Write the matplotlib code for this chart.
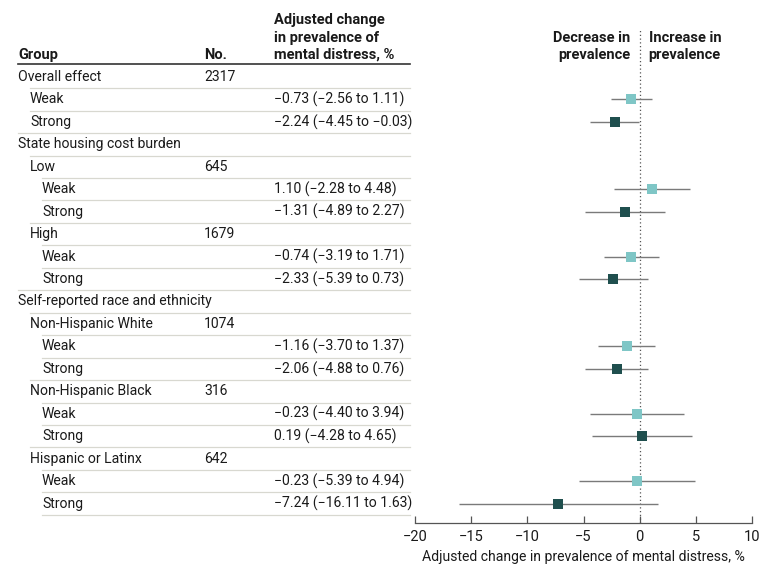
import matplotlib
matplotlib.use("Agg")
import matplotlib.pyplot as plt
import matplotlib.transforms as mtransforms
from matplotlib.lines import Line2D

plt.rcParams['font.family'] = ['Roboto', 'DejaVu Sans']

# ---- data ----
labels = ["Overall effect", "Weak", "Strong",
          "State housing cost burden",
          "Low", "Weak", "Strong",
          "High", "Weak", "Strong",
          "Self-reported race and ethnicity",
          "Non-Hispanic White", "Weak", "Strong",
          "Non-Hispanic Black", "Weak", "Strong",
          "Hispanic or Latinx", "Weak", "Strong"]
levels = [0, 1, 1, 0, 1, 2, 2, 1, 2, 2, 0, 1, 2, 2, 1, 2, 2, 1, 2, 2]
counts = ["2317", "", "", "", "645", "", "", "1679", "", "",
          "", "1074", "", "", "316", "", "", "642", "", ""]
est = [None, -0.73, -2.24, None, None, 1.10, -1.31, None, -0.74, -2.33,
       None, None, -1.16, -2.06, None, -0.23, 0.19, None, -0.23, -7.24]
low = [None, -2.56, -4.45, None, None, -2.28, -4.89, None, -3.19, -5.39,
       None, None, -3.70, -4.88, None, -4.40, -4.28, None, -5.39, -16.11]
high = [None, 1.11, -0.03, None, None, 4.48, 2.27, None, 1.71, 0.73,
        None, None, 1.37, 0.76, None, 3.94, 4.65, None, 4.94, 1.63]
xticks = [-20, -15, -10, -5, 0, 5, 10]

W, H = 780, 573
FS = 10.1
TXT = "#1a1a1a"
fig = plt.figure(figsize=(W / 100, H / 100), dpi=100)

def fx(px):
    return px / W

# forest axes
ax_left, ax_right = 415, 752
ax_top, ax_bot = 29, 523
ax = fig.add_axes([fx(ax_left), 1 - ax_bot / H, fx(ax_right - ax_left), (ax_bot - ax_top) / H])
row0_px, step_px = 77, 22.45
ax.set_ylim((ax_bot - row0_px) / step_px, (ax_top - row0_px) / step_px)
ax.set_xlim(-20, 10)
for s in ["top", "right", "left"]:
    ax.spines[s].set_visible(False)
ax.spines["bottom"].set_color("#555555")
ax.spines["bottom"].set_linewidth(0.9)
ax.set_yticks([])
ax.set_xticks(xticks)
ax.set_xticklabels([str(t).replace('-', '\u2212') for t in xticks])
ax.tick_params(axis='x', direction='in', length=5, width=0.9, color="#555555",
               labelsize=FS + 0.4, labelcolor=TXT, pad=5)
ax.set_xlabel("Adjusted change in prevalence of mental distress, %", fontsize=FS,
              color=TXT, labelpad=4)
ax.patch.set_alpha(0)
ax.axvline(0, color="#555555", linestyle=(0, (1, 2)), linewidth=0.9, zorder=1)

light = "#7fc6c6"
dark = "#1f4f4e"
for i, lab in enumerate(labels):
    if est[i] is None:
        continue
    col = light if lab == "Weak" else dark
    ax.plot([low[i], high[i]], [i, i], color="#7a7a7a", linewidth=1.0, zorder=2, solid_capstyle='butt')
    ax.plot([est[i]], [i], marker='s', markersize=7, color=col, markeredgewidth=0, zorder=3)

ax.text(-0.8, -1.36, "Decrease in\nprevalence", ha='right', va='center', fontsize=FS + 0.4,
        fontweight='bold', color=TXT, linespacing=1.3)
ax.text(0.8, -1.36, "Increase in\nprevalence", ha='left', va='center', fontsize=FS + 0.4,
        fontweight='bold', color=TXT, linespacing=1.3)

# table
tr = mtransforms.blended_transform_factory(fig.transFigure, ax.transData)
indent_px = [18, 30, 42]
col_no, col_ci, tab_right = 204, 274, 410

def fmt(v):
    return f"{v:.2f}".replace('-', '\u2212')

for i, lab in enumerate(labels):
    ax.text(fx(indent_px[levels[i]]), i, lab, transform=tr, ha='left', va='center',
            fontsize=FS, color=TXT, clip_on=False)
    if counts[i]:
        ax.text(fx(col_no), i, counts[i], transform=tr, ha='left', va='center',
                fontsize=FS, color=TXT, clip_on=False)
    if est[i] is not None:
        s = f"{fmt(est[i])} ({fmt(low[i])} to {fmt(high[i])})"
        ax.text(fx(col_ci), i, s, transform=tr, ha='left', va='center',
                fontsize=FS, color=TXT, clip_on=False)
    start = indent_px[levels[i]]
    if i > 0:
        fig.add_artist(Line2D([fx(start), fx(tab_right)], [i - 0.5, i - 0.5], transform=tr,
                              color="#d8d8d0", linewidth=0.9))
fig.add_artist(Line2D([fx(indent_px[2]), fx(tab_right)], [len(labels) - 0.5] * 2, transform=tr,
                      color="#d8d8d0", linewidth=0.9))

# header
hdr_y = -1.0
ax.text(fx(18), hdr_y, "Group", transform=tr, ha='left', va='center', fontsize=FS + 0.4,
        fontweight='bold', color=TXT, clip_on=False)
ax.text(fx(col_no), hdr_y, "No.", transform=tr, ha='left', va='center', fontsize=FS + 0.4,
        fontweight='bold', color=TXT, clip_on=False)
ax.text(fx(col_ci), hdr_y + 0.33, "Adjusted change\nin prevalence of\nmental distress, %", transform=tr,
        ha='left', va='bottom', fontsize=FS + 0.4, fontweight='bold', color=TXT,
        linespacing=1.3, clip_on=False)
fig.add_artist(Line2D([fx(18), fx(tab_right)], [-0.6, -0.6], transform=tr,
                      color="#333333", linewidth=1.2))

fig.savefig("out.png", dpi=100)
